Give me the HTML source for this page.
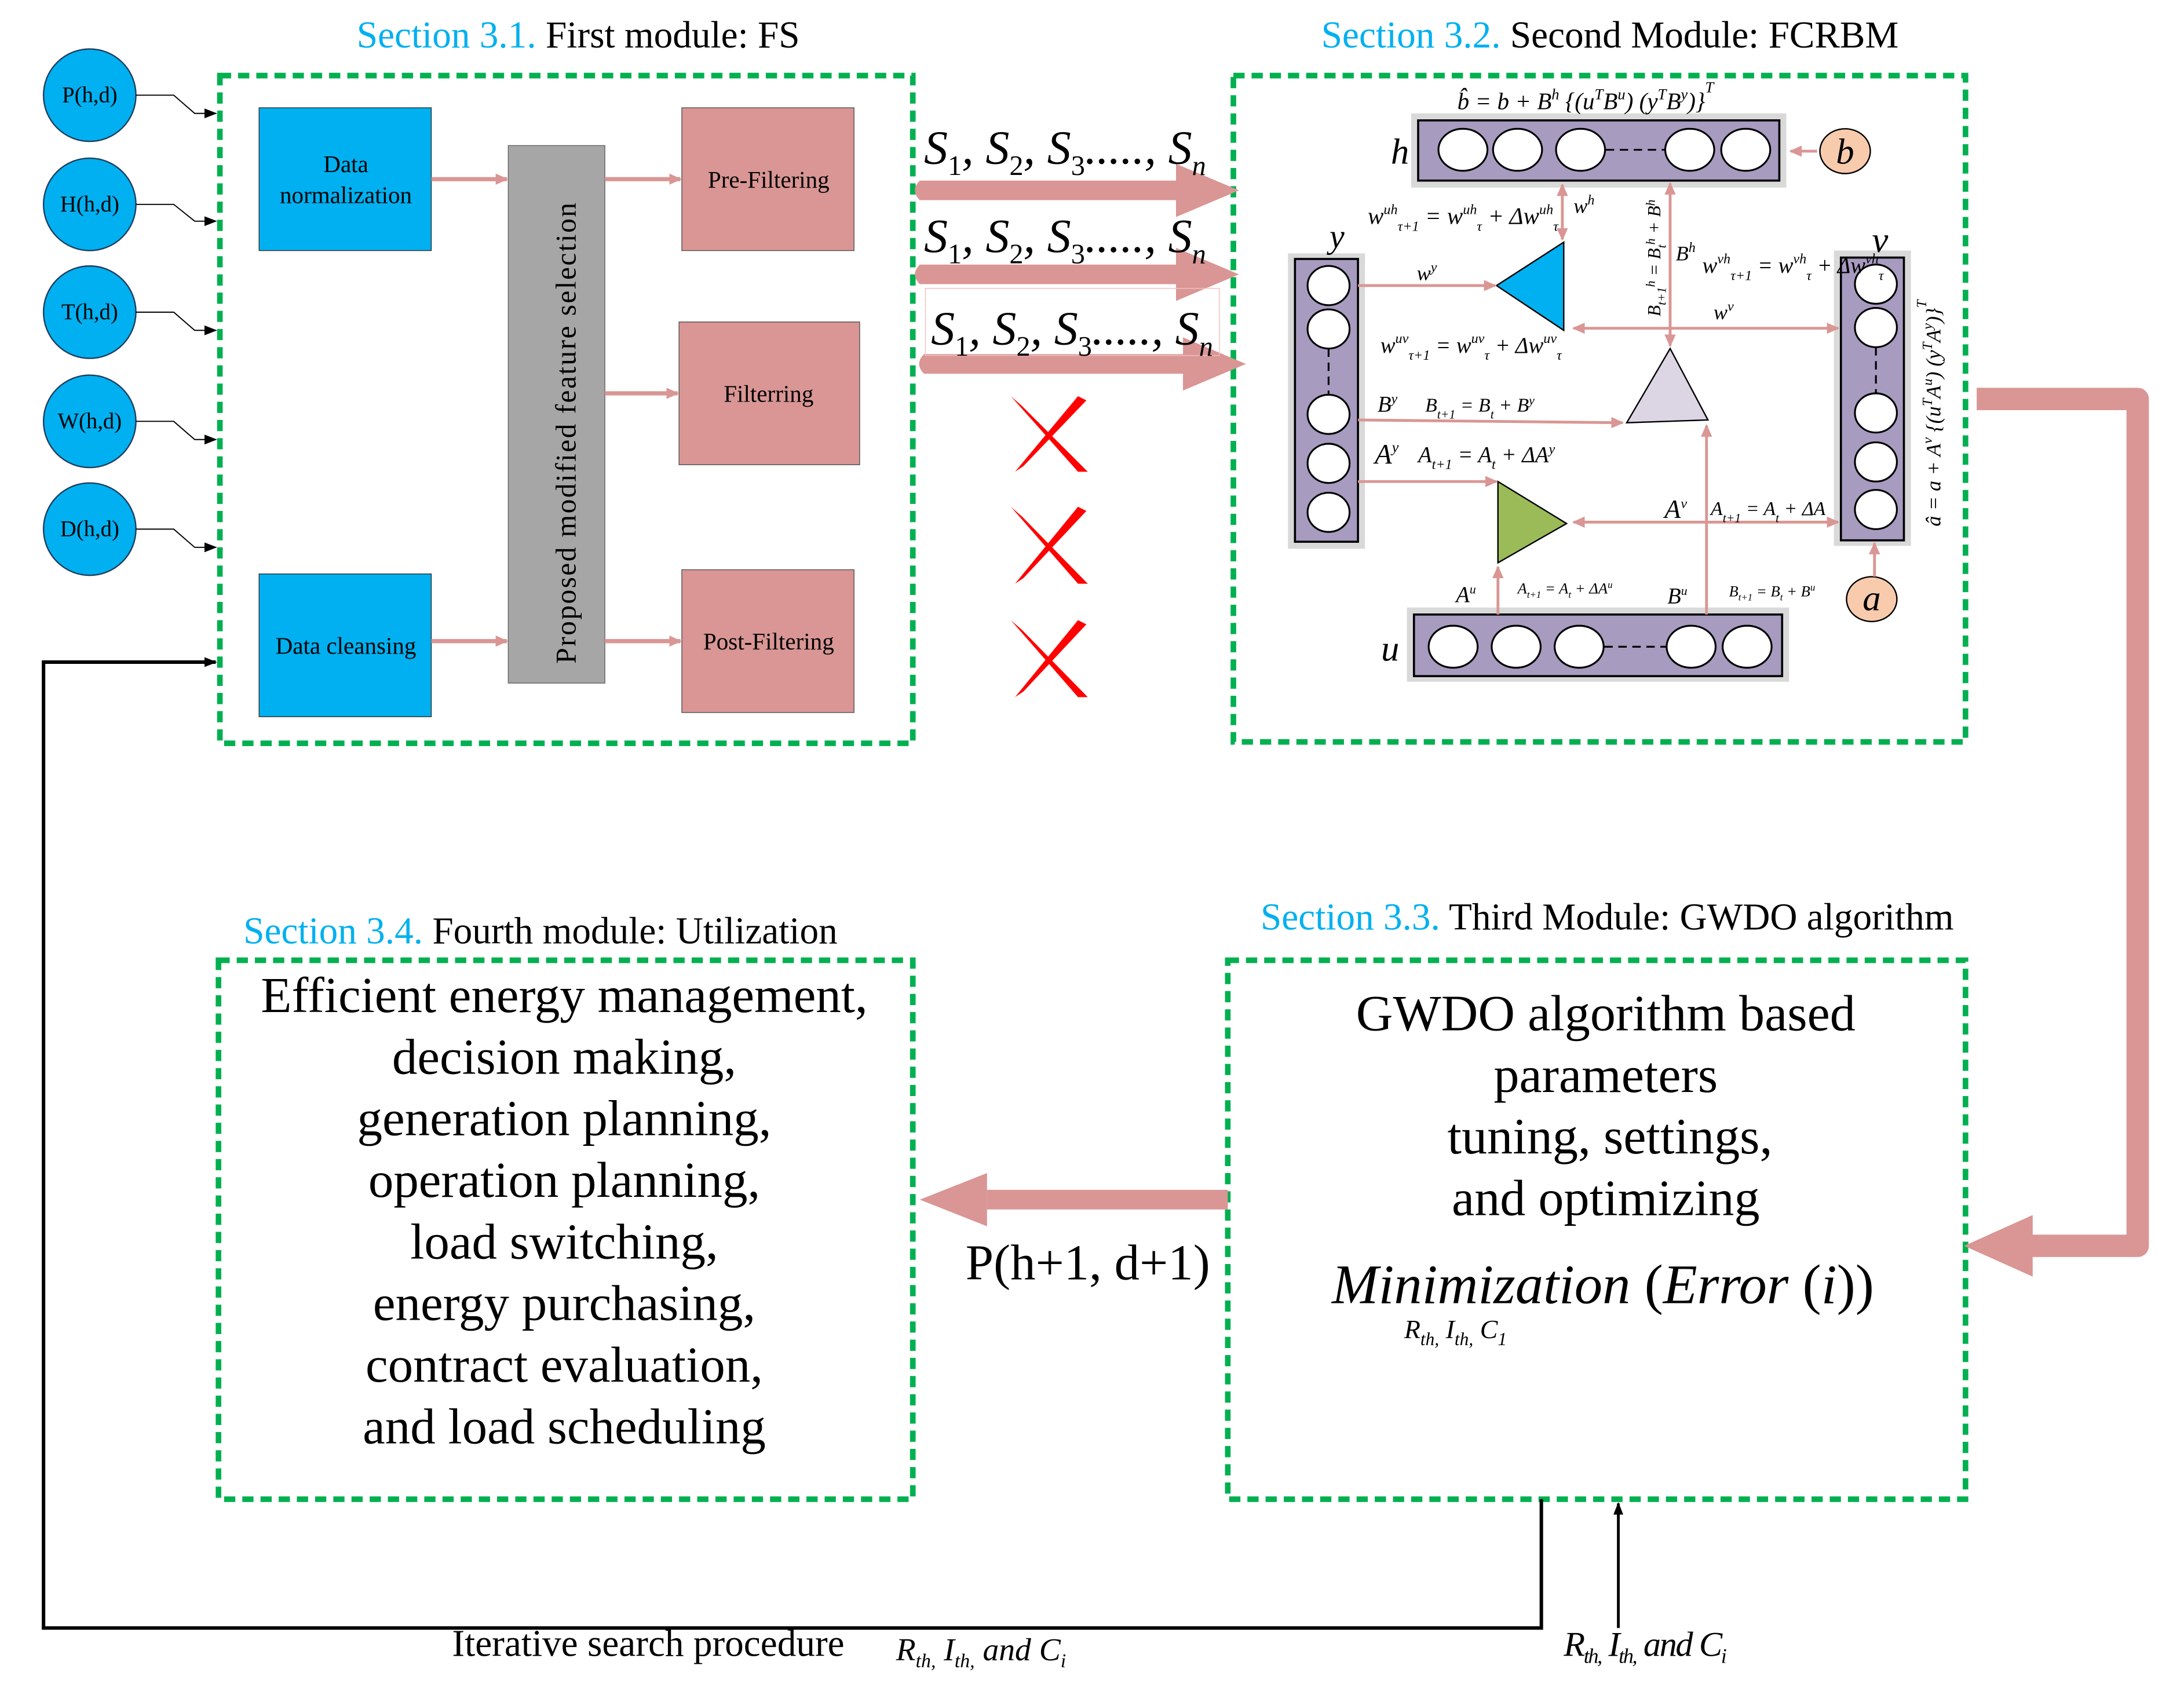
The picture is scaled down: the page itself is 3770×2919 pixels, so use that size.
<!DOCTYPE html>
<html><head><meta charset="utf-8"><style>
html,body{margin:0;padding:0;background:#fff}
svg{display:block}
text{font-family:"Liberation Serif",serif}
</style></head><body>
<svg width="3770" height="2919" viewBox="0 0 1560 1208" xmlns="http://www.w3.org/2000/svg">
<defs>
<marker id="pa" markerWidth="10" markerHeight="10" refX="8" refY="5" orient="auto" markerUnits="userSpaceOnUse"><path d="M0,1 L9,5 L0,9 Z" fill="#D99694"/></marker>
<marker id="pb" markerWidth="10" markerHeight="10" refX="2" refY="5" orient="auto" markerUnits="userSpaceOnUse"><path d="M10,1 L1,5 L10,9 Z" fill="#D99694"/></marker>
<marker id="ka" markerWidth="10" markerHeight="10" refX="8" refY="5" orient="auto" markerUnits="userSpaceOnUse"><path d="M0,1.5 L9,5 L0,8.5 Z" fill="#000"/></marker>
</defs>
<!-- titles -->
<text x="413" y="34" font-size="27" text-anchor="middle"><tspan fill="#00B0F0">Section 3.1.</tspan> First module: FS</text>
<text x="1150" y="34" font-size="27" text-anchor="middle"><tspan fill="#00B0F0">Section 3.2.</tspan> Second Module: FCRBM</text>
<text x="1148" y="664" font-size="27" text-anchor="middle"><tspan fill="#00B0F0">Section 3.3.</tspan> Third Module: GWDO algorithm</text>
<text x="386" y="674" font-size="27" text-anchor="middle"><tspan fill="#00B0F0">Section 3.4.</tspan> Fourth module: Utilization</text>

<!-- input circles -->
<g font-size="16" text-anchor="middle">
<g fill="#00B0F0" stroke="#1F3F5F" stroke-width="1">
<ellipse cx="64" cy="68" rx="33" ry="33"/><ellipse cx="64" cy="146" rx="33" ry="33"/><ellipse cx="64" cy="223" rx="33" ry="33"/><ellipse cx="64" cy="301" rx="33" ry="33"/><ellipse cx="64" cy="378" rx="33" ry="33"/></g>
<text x="64" y="73">P(h,d)</text><text x="64" y="151">H(h,d)</text><text x="64" y="228">T(h,d)</text><text x="64" y="306">W(h,d)</text><text x="64" y="383">D(h,d)</text>
</g>
<g fill="none" stroke="#000" stroke-width="0.8">
<path d="M97,68 H124 L139,81 H154" marker-end="url(#ka)"/>
<path d="M97,146 H124 L139,158 H154" marker-end="url(#ka)"/>
<path d="M97,223 H124 L139,236 H154" marker-end="url(#ka)"/>
<path d="M97,301 H124 L139,314 H154" marker-end="url(#ka)"/>
<path d="M97,378 H124 L139,391 H154" marker-end="url(#ka)"/>
</g>

<!-- green dashed boxes -->
<g fill="none" stroke="#00B050" stroke-width="4" stroke-dasharray="8 5">
<rect x="157" y="54" width="495" height="477"/>
<rect x="881" y="54" width="523" height="476"/>
<rect x="877" y="686" width="527" height="385"/>
<rect x="156" y="686" width="496" height="385"/>
</g>

<!-- module 1 -->
<rect x="185" y="77" width="123" height="102" fill="#00B0F0" stroke="#333" stroke-width="0.6"/>
<rect x="185" y="410" width="123" height="102" fill="#00B0F0" stroke="#333" stroke-width="0.6"/>
<text x="247" y="123" font-size="17" text-anchor="middle">Data</text>
<text x="247" y="145" font-size="17" text-anchor="middle">normalization</text>
<text x="247" y="467" font-size="17" text-anchor="middle">Data cleansing</text>
<rect x="363" y="104" width="69" height="384" fill="#A6A6A6" stroke="#666" stroke-width="0.6"/>
<text transform="translate(411,309) rotate(-90)" font-size="20.5" text-anchor="middle" letter-spacing="1">Proposed modified feature selection</text>
<g fill="#D99694" stroke="#555" stroke-width="0.6">
<rect x="487" y="77" width="123" height="102"/><rect x="485" y="230" width="129" height="102"/><rect x="487" y="407" width="123" height="102"/></g>
<g font-size="17" text-anchor="middle"><text x="549" y="134">Pre-Filtering</text><text x="549" y="287">Filterring</text><text x="549" y="464">Post-Filtering</text></g>
<g stroke="#D99694" stroke-width="3" marker-end="url(#pa)">
<line x1="308" y1="128" x2="362" y2="128"/><line x1="432" y1="128" x2="486" y2="128"/><line x1="432" y1="281" x2="484" y2="281"/><line x1="308" y1="458" x2="362" y2="458"/><line x1="432" y1="458" x2="486" y2="458"/></g>

<!-- big S arrows -->
<g fill="#D99694">
<path d="M657,129 H840 V117 L885,136 L840,155 V143 H657 Q650,136 657,129 Z"/>
<path d="M657,189 H840 V177 L885,196 L840,215 V203 H657 Q650,196 657,189 Z"/>
<path d="M660,253 H845 V241 L890,260 L845,279 V267 H660 Q653,260 660,253 Z"/>
</g>
<rect x="661" y="206" width="210" height="48" fill="none" stroke="#F2C0C0" stroke-width="0.6"/>
<g font-size="34" font-style="italic">
<text x="660" y="117">S<tspan font-size="20" dy="8" font-style="normal">1</tspan><tspan dy="-8">, S</tspan><tspan font-size="20" dy="8" font-style="normal">2</tspan><tspan dy="-8">, S</tspan><tspan font-size="20" dy="8" font-style="normal">3</tspan><tspan dy="-8">....., S</tspan><tspan font-size="20" dy="8">n</tspan></text>
<text x="660" y="180">S<tspan font-size="20" dy="8" font-style="normal">1</tspan><tspan dy="-8">, S</tspan><tspan font-size="20" dy="8" font-style="normal">2</tspan><tspan dy="-8">, S</tspan><tspan font-size="20" dy="8" font-style="normal">3</tspan><tspan dy="-8">....., S</tspan><tspan font-size="20" dy="8">n</tspan></text>
<text x="665" y="246">S<tspan font-size="20" dy="8" font-style="normal">1</tspan><tspan dy="-8">, S</tspan><tspan font-size="20" dy="8" font-style="normal">2</tspan><tspan dy="-8">, S</tspan><tspan font-size="20" dy="8" font-style="normal">3</tspan><tspan dy="-8">....., S</tspan><tspan font-size="20" dy="8">n</tspan></text>
</g>
<!-- red X -->
<g fill="#FF0000">
<path d="M722,283 L770,337 L777,337 L730,290 Z M770,283 L725,337 L731,333 L776,286 Z"/>
<path d="M722,362 L770,417 L777,417 L730,369 Z M770,362 L725,417 L731,413 L776,365 Z"/>
<path d="M722,443 L770,498 L777,498 L730,450 Z M770,443 L725,498 L731,494 L776,446 Z"/>
</g>

<!-- module 2 FCRBM -->
<g fill="#D9D9D9"><rect x="1008" y="81" width="268" height="53"/><rect x="1005" y="434" width="273" height="53"/><rect x="920" y="181" width="55" height="211"/><rect x="1310" y="179" width="55" height="211"/></g>
<g fill="#A79BC0" stroke="#000" stroke-width="1.5">
<rect x="1013" y="86" width="258" height="43"/><rect x="1010" y="439" width="263" height="44"/><rect x="925" y="185" width="45" height="202"/><rect x="1315" y="184" width="45" height="202"/></g>
<g fill="#fff" stroke="#000" stroke-width="1.3">
<ellipse cx="1045" cy="107" rx="17.5" ry="15"/><ellipse cx="1084" cy="107" rx="17.5" ry="15"/><ellipse cx="1129" cy="107" rx="17.5" ry="15"/><ellipse cx="1207" cy="107" rx="17.5" ry="15"/><ellipse cx="1247" cy="107" rx="17.5" ry="15"/>
<ellipse cx="1038" cy="462" rx="17.5" ry="15"/><ellipse cx="1083" cy="462" rx="17.5" ry="15"/><ellipse cx="1128" cy="462" rx="17.5" ry="15"/><ellipse cx="1208" cy="462" rx="17.5" ry="15"/><ellipse cx="1248" cy="462" rx="17.5" ry="15"/>
<ellipse cx="949" cy="204" rx="15" ry="14"/><ellipse cx="949" cy="235" rx="15" ry="14"/><ellipse cx="949" cy="296" rx="15" ry="14"/><ellipse cx="949" cy="331" rx="15" ry="14"/><ellipse cx="949" cy="366" rx="15" ry="14"/>
<ellipse cx="1340" cy="203" rx="15" ry="14"/><ellipse cx="1340" cy="234" rx="15" ry="14"/><ellipse cx="1340" cy="295" rx="15" ry="14"/><ellipse cx="1340" cy="330" rx="15" ry="14"/><ellipse cx="1340" cy="364" rx="15" ry="14"/>
</g>
<g stroke="#000" stroke-width="1.3" stroke-dasharray="6 4"><line x1="1147" y1="107" x2="1189" y2="107"/><line x1="1146" y1="462" x2="1190" y2="462"/><line x1="949" y1="249" x2="949" y2="282"/><line x1="1340" y1="248" x2="1340" y2="281"/></g>
<ellipse cx="1318" cy="108" rx="18" ry="16" fill="#F8CBAD" stroke="#000"/>
<ellipse cx="1337" cy="428" rx="18" ry="16" fill="#F8CBAD" stroke="#000"/>
<text x="1318" y="117" font-size="26" font-style="italic" text-anchor="middle">b</text>
<text x="1337" y="436" font-size="26" font-style="italic" text-anchor="middle">a</text>
<polygon points="1069,204 1117,173 1117,236" fill="#00B0F0" stroke="#000"/>
<polygon points="1193,249 1162,302 1220,300" fill="#DCD6E4" stroke="#000"/>
<polygon points="1070,344 1070,402 1119,374" fill="#9BBB59" stroke="#000"/>
<g stroke="#D99694" stroke-width="2" fill="none">
<line x1="970" y1="204" x2="1068" y2="204" marker-end="url(#pa)"/>
<line x1="1116" y1="132" x2="1116" y2="171" marker-start="url(#pb)" marker-end="url(#pa)"/>
<line x1="1193" y1="131" x2="1193" y2="247" marker-start="url(#pb)" marker-end="url(#pa)"/>
<line x1="1124" y1="234.5" x2="1313" y2="234.5" marker-start="url(#pb)" marker-end="url(#pa)"/>
<line x1="970" y1="300" x2="1159" y2="302" marker-end="url(#pa)"/>
<line x1="970" y1="344" x2="1069" y2="344" marker-end="url(#pa)"/>
<line x1="1124" y1="373" x2="1313" y2="373" marker-start="url(#pb)" marker-end="url(#pa)"/>
<line x1="1070" y1="439" x2="1070" y2="405" marker-end="url(#pa)"/>
<line x1="1219" y1="439" x2="1219" y2="304" marker-end="url(#pa)"/>
<line x1="1339" y1="412" x2="1339" y2="388" marker-end="url(#pa)"/>
<line x1="1298" y1="108" x2="1279" y2="108" marker-end="url(#pa)"/>
</g>
<g font-style="italic">
<text x="1000" y="117" font-size="26" text-anchor="middle">h</text>
<text x="955" y="177" font-size="24" text-anchor="middle">y</text>
<text x="1343" y="180" font-size="26" text-anchor="middle">v</text>
<text x="993" y="472" font-size="26" text-anchor="middle">u</text>
<text x="1041" y="78" font-size="17">b̂ = b + B<tspan font-size="11" dy="-7">h</tspan><tspan dy="7"> {(u</tspan><tspan font-size="11" dy="-7">T</tspan><tspan dy="7">B</tspan><tspan font-size="11" dy="-7">u</tspan><tspan dy="7">) (y</tspan><tspan font-size="11" dy="-7">T</tspan><tspan dy="7">B</tspan><tspan font-size="11" dy="-7">y</tspan><tspan dy="7">)}</tspan><tspan font-size="11" dy="-12">T</tspan></text>
<text x="977" y="160" font-size="17">w<tspan font-size="10" dy="-7">uh</tspan><tspan font-size="10" dy="12">τ+1</tspan><tspan dy="-5"> = w</tspan><tspan font-size="10" dy="-7">uh</tspan><tspan font-size="10" dy="12">τ</tspan><tspan dy="-5"> + Δw</tspan><tspan font-size="10" dy="-7">uh</tspan><tspan font-size="10" dy="12">τ</tspan></text>
<text x="1124" y="152" font-size="15">w<tspan font-size="10" dy="-6">h</tspan></text>
<text x="1012" y="200" font-size="15">w<tspan font-size="10" dy="-6">y</tspan></text>
<text x="1197" y="186" font-size="15">B<tspan font-size="10" dy="-6">h</tspan></text>
<text x="1216" y="195" font-size="16">w<tspan font-size="10" dy="-7">vh</tspan><tspan font-size="10" dy="12">τ+1</tspan><tspan dy="-5"> = w</tspan><tspan font-size="10" dy="-7">vh</tspan><tspan font-size="10" dy="12">τ</tspan><tspan dy="-5"> + Δw</tspan><tspan font-size="10" dy="-7">vh</tspan><tspan font-size="10" dy="12">τ</tspan></text>
<text x="1224" y="228" font-size="15">w<tspan font-size="10" dy="-6">v</tspan></text>
<text transform="translate(1186,226) rotate(-90)" font-size="13">B<tspan font-size="9" dy="4">t+1</tspan><tspan dy="-8" font-size="9">h</tspan><tspan dy="4"> = B</tspan><tspan font-size="9" dy="4">t</tspan><tspan font-size="9" dy="-8">h</tspan><tspan dy="4"> + B</tspan><tspan font-size="9" dy="-4">h</tspan></text>
<text x="986" y="252" font-size="16">w<tspan font-size="10" dy="-7">uv</tspan><tspan font-size="10" dy="12">τ+1</tspan><tspan dy="-5"> = w</tspan><tspan font-size="10" dy="-7">uv</tspan><tspan font-size="10" dy="12">τ</tspan><tspan dy="-5"> + Δw</tspan><tspan font-size="10" dy="-7">uv</tspan><tspan font-size="10" dy="12">τ</tspan></text>
<text x="984" y="294" font-size="16">B<tspan font-size="10" dy="-6">y</tspan></text>
<text x="1018" y="294" font-size="14">B<tspan font-size="9" dy="5">t+1</tspan><tspan dy="-5"> = B</tspan><tspan font-size="9" dy="5">t</tspan><tspan dy="-5"> + B</tspan><tspan font-size="9" dy="-5">y</tspan></text>
<text x="982" y="331" font-size="20">A<tspan font-size="11" dy="-8">y</tspan></text>
<text x="1013" y="330" font-size="16">A<tspan font-size="10" dy="5">t+1</tspan><tspan dy="-5"> = A</tspan><tspan font-size="10" dy="5">t</tspan><tspan dy="-5"> + ΔA</tspan><tspan font-size="10" dy="-6">y</tspan></text>
<text x="1189" y="370" font-size="19">A<tspan font-size="10" dy="-7">v</tspan></text>
<text x="1222" y="368" font-size="14">A<tspan font-size="9" dy="5">t+1</tspan><tspan dy="-5"> = A</tspan><tspan font-size="9" dy="5">t</tspan><tspan dy="-5"> + ΔA</tspan></text>
<text x="1040" y="430" font-size="16">A<tspan font-size="9" dy="-6">u</tspan></text>
<text x="1084" y="424" font-size="11">A<tspan font-size="7" dy="3">t+1</tspan><tspan dy="-3"> = A</tspan><tspan font-size="7" dy="3">t</tspan><tspan dy="-3"> + ΔA</tspan><tspan font-size="7" dy="-4">u</tspan></text>
<text x="1191" y="431" font-size="16">B<tspan font-size="9" dy="-6">u</tspan></text>
<text x="1235" y="426" font-size="11">B<tspan font-size="7" dy="3">t+1</tspan><tspan dy="-3"> = B</tspan><tspan font-size="7" dy="3">t</tspan><tspan dy="-3"> + B</tspan><tspan font-size="7" dy="-4">u</tspan></text>
<text transform="translate(1386,376) rotate(-90)" font-size="15">â = a + A<tspan font-size="10" dy="-6">v</tspan><tspan dy="6"> {(u</tspan><tspan font-size="10" dy="-6">T</tspan><tspan dy="6">A</tspan><tspan font-size="10" dy="-6">u</tspan><tspan dy="6">) (y</tspan><tspan font-size="10" dy="-6">T</tspan><tspan dy="6">A</tspan><tspan font-size="10" dy="-6">y</tspan><tspan dy="6">)}</tspan><tspan font-size="10" dy="-10">T</tspan></text>
</g>

<!-- big right loop arrow -->
<path d="M1412,285 H1527 V890 H1450" fill="none" stroke="#D99694" stroke-width="16" stroke-linejoin="round"/>
<polygon points="1452,868 1403,890 1452,912" fill="#D99694"/>

<!-- module 3 -->
<g font-size="36.5" text-anchor="middle">
<text x="1147" y="736">GWDO algorithm based</text>
<text x="1147" y="780">parameters</text>
<text x="1150" y="824">tuning, settings,</text>
<text x="1147" y="868">and optimizing</text>
</g>
<text x="1145" y="931" font-size="40" text-anchor="middle"><tspan font-style="italic">Minimization</tspan> (<tspan font-style="italic">Error</tspan> (<tspan font-style="italic">i</tspan>))</text>
<text x="1003" y="956" font-size="19" font-style="italic">R<tspan font-size="13" dy="5">th,</tspan><tspan dy="-5"> I</tspan><tspan font-size="13" dy="5">th,</tspan><tspan dy="-5"> C</tspan><tspan font-size="13" dy="5">1</tspan></text>

<!-- left arrow + label -->
<path d="M877,850 H705 V864 H877 Z" fill="#D99694"/>
<polygon points="705,838 657,857 705,876" fill="#D99694"/>
<text x="777" y="914" font-size="36" text-anchor="middle">P(h+1, d+1)</text>

<!-- module 4 -->
<g font-size="36" text-anchor="middle">
<text x="403" y="723">Efficient energy management,</text>
<text x="403" y="767">decision making,</text>
<text x="403" y="811">generation planning,</text>
<text x="403" y="855">operation planning,</text>
<text x="403" y="899">load switching,</text>
<text x="403" y="943">energy purchasing,</text>
<text x="403" y="987">contract evaluation,</text>
<text x="403" y="1031">and load scheduling</text>
</g>

<!-- feedback -->
<path d="M1101,1071 V1163 H31 V473 H154" fill="none" stroke="#000" stroke-width="2.5" marker-end="url(#ka)"/>
<line x1="1156" y1="1163" x2="1156" y2="1074" stroke="#000" stroke-width="2" marker-end="url(#ka)"/>
<text x="463" y="1183" font-size="27" text-anchor="middle">Iterative search procedure</text>
<text x="640" y="1186" font-size="23" font-style="italic">R<tspan font-size="14" dy="5">th,</tspan><tspan dy="-5"> I</tspan><tspan font-size="14" dy="5">th,</tspan><tspan dy="-5"> and C</tspan><tspan font-size="14" dy="5">i</tspan></text>
<text x="1117" y="1183" font-size="25" font-style="italic" letter-spacing="-1">R<tspan font-size="15" dy="5">th,</tspan><tspan dy="-5"> I</tspan><tspan font-size="15" dy="5">th,</tspan><tspan dy="-5"> and C</tspan><tspan font-size="15" dy="5">i</tspan></text>
</svg>
</body></html>
